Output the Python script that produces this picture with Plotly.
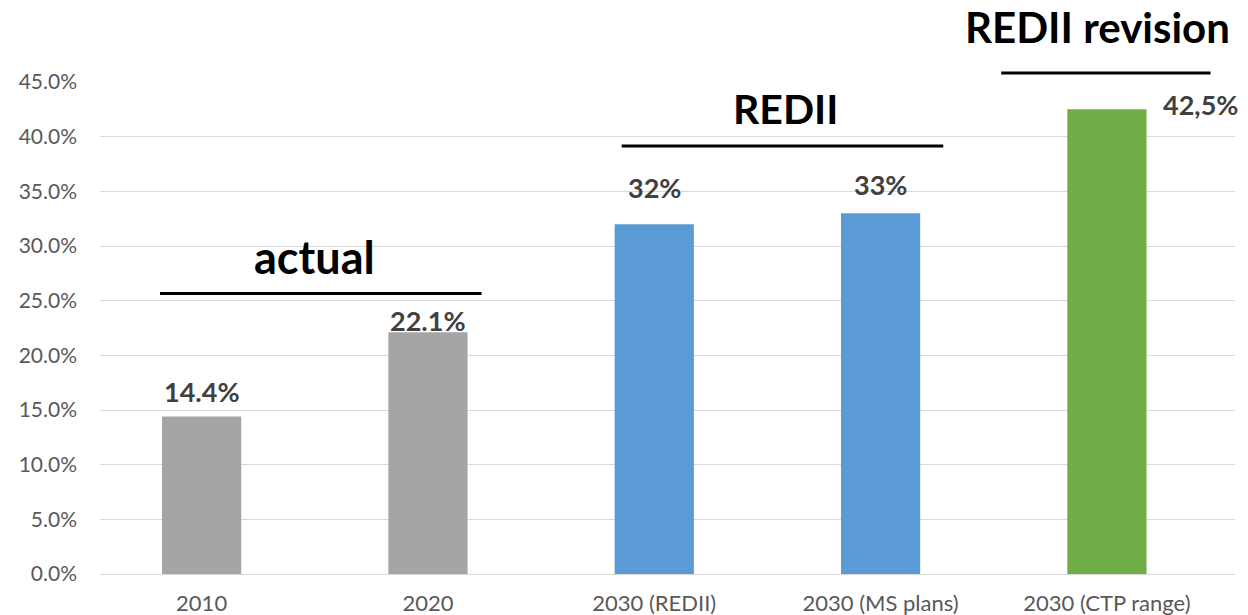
import plotly.graph_objects as go

categories = ["2010", "2020", "2030 (REDII)", "2030 (MS plans)", "2030 (CTP range)"]
values = [14.4, 22.1, 32.0, 33.0, 42.5]
value_labels = ["14.4%", "22.1%", "32%", "33%", "42,5%"]
bar_colors = ["#A5A5A5", "#A5A5A5", "#5B9BD5", "#5B9BD5", "#70AD47"]
tick_vals = [0, 5, 10, 15, 20, 25, 30, 35, 40, 45]
tick_text = ["0.0%", "5.0%", "10.0%", "15.0%", "20.0%", "25.0%", "30.0%", "35.0%", "40.0%", "45.0%"]
group_labels = ["actual", "REDII", "REDII revision"]

FONT = "Lato"

fig = go.Figure(go.Bar(x=categories, y=values, marker=dict(color=bar_colors, line=dict(width=0)),
                       hoverinfo="skip"))

# data label offsets (px)
label_shift = [(0, 25), (0, 12), (0, 37), (0, 29), (94, 5)]
anns = []
for i, (c, v, t) in enumerate(zip(categories, values, value_labels)):
    dx, dy = label_shift[i]
    anns.append(dict(x=i, y=v, text="<b>%s</b>" % t, showarrow=False, xref="x", yref="y",
                     xshift=dx, yshift=dy, font=dict(family=FONT, size=27, color="#404040")))

# group headings and underline bars (x in category units, y in paper units)
groups = [
    dict(x0=-0.184, x1=1.237, y=0.5703, tx=0.5, ty=0.645, fs=45),
    dict(x0=1.856, x1=3.277, y=0.8697, tx=2.58, ty=0.946, fs=41),
    dict(x0=3.533, x1=4.458, y=1.0183, tx=3.96, ty=1.112, fs=42),
]
shapes = []
for g, lab in zip(groups, group_labels):
    shapes.append(dict(type="line", xref="x", yref="paper", x0=g["x0"], x1=g["x1"], y0=g["y"], y1=g["y"],
                       line=dict(color="black", width=3)))
    anns.append(dict(x=g["tx"], y=g["ty"], text="<b>%s</b>" % lab, showarrow=False, xref="x", yref="paper",
                     xanchor="center", yanchor="middle",
                     font=dict(family=FONT, size=g["fs"], color="black")))

fig.update_layout(
    width=1240, height=607,
    margin=dict(l=92, r=13, t=74, b=41, autoexpand=False),
    plot_bgcolor="white", paper_bgcolor="white",
    bargap=0.65,
    showlegend=False,
    annotations=anns, shapes=shapes,
    xaxis=dict(type="category", range=[-0.449, 4.566], showgrid=False, showline=False,
               tickfont=dict(family=FONT, size=22, color="#595959"), ticks="", fixedrange=True,
               ticklabelstandoff=14, automargin=False),
    yaxis=dict(range=[0, 45], tickvals=tick_vals, ticktext=tick_text, showgrid=True, gridcolor="#D9D9D9",
               gridwidth=1, zeroline=True, zerolinecolor="#D9D9D9", zerolinewidth=1, automargin=False,
               tickfont=dict(family=FONT, size=21, color="#595959"), ticks="", ticklabelstandoff=22),
)

fig.write_html("out.html")
